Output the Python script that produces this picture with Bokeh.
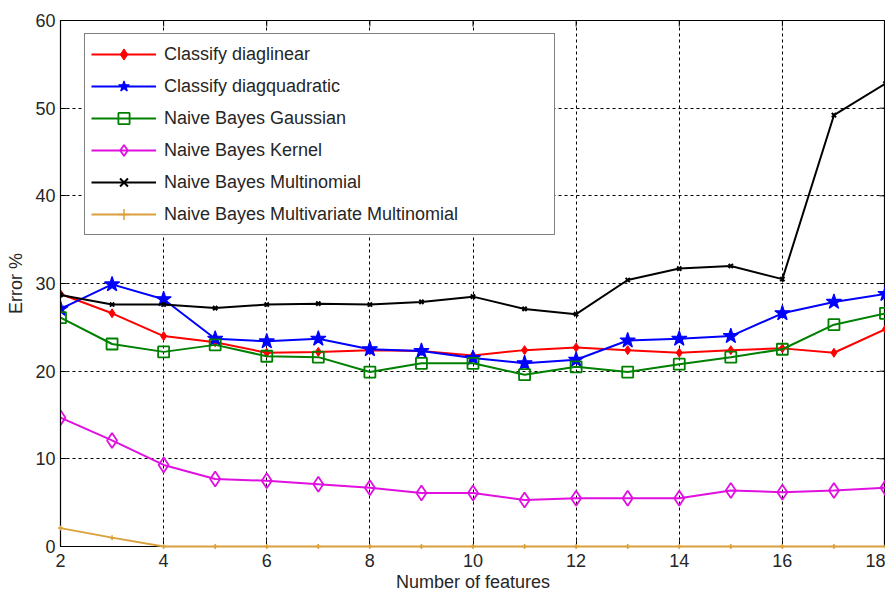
import math
from bokeh.plotting import figure
from bokeh.models import FixedTicker, Range1d, Legend, LegendItem
from bokeh.embed import file_html
from bokeh.resources import INLINE

features = list(range(2, 19))
diaglinear = [28.8, 26.6, 24.0, 23.3, 22.1, 22.2, 22.4, 22.3, 21.8, 22.4, 22.7, 22.4, 22.1, 22.4, 22.6, 22.1, 24.8]
diagquadratic = [27.1, 29.9, 28.2, 23.7, 23.4, 23.7, 22.5, 22.3, 21.5, 20.9, 21.3, 23.5, 23.7, 24.0, 26.6, 27.9, 28.8]
nb_gaussian = [26.1, 23.1, 22.2, 23.0, 21.7, 21.6, 19.9, 20.9, 20.9, 19.6, 20.5, 19.9, 20.8, 21.6, 22.5, 25.3, 26.6]
nb_kernel = [14.7, 12.1, 9.3, 7.7, 7.5, 7.1, 6.7, 6.1, 6.1, 5.3, 5.5, 5.5, 5.5, 6.4, 6.2, 6.4, 6.7]
nb_multinomial = [28.7, 27.6, 27.6, 27.2, 27.6, 27.7, 27.6, 27.9, 28.5, 27.1, 26.5, 30.4, 31.7, 32.0, 30.5, 49.2, 52.8]
nb_mv_multinomial = [2.1, 1.0, 0, 0, 0, 0, 0, 0, 0, 0, 0, 0, 0, 0, 0, 0, 0]

labels = ["Classify diaglinear", "Classify diagquadratic", "Naive Bayes Gaussian",
          "Naive Bayes Kernel", "Naive Bayes Multinomial", "Naive Bayes Multivariate Multinomial"]
x_ticks = [2, 4, 6, 8, 10, 12, 14, 16, 18]
y_ticks = [0, 10, 20, 30, 40, 50, 60]
x_min, x_max = 2, 18
y_min, y_max = 0, 60

FONT = "Liberation Sans"
TXT = "#262626"

p = figure(width=885, height=594, output_backend="svg", toolbar_location=None,
           x_range=Range1d(x_min, x_max), y_range=Range1d(y_min, y_max),
           min_border_left=60, min_border_right=0, min_border_top=20, min_border_bottom=48,
           background_fill_color="white", border_fill_color="white")
p.outline_line_color = "black"
p.outline_line_width = 1.2

for ax in (p.xaxis[0], p.yaxis[0]):
    ax.major_tick_in = 6
    ax.major_tick_out = 0
    ax.minor_tick_line_color = None
    ax.major_label_text_font = FONT
    ax.major_label_text_font_size = "18px"
    ax.major_label_text_color = TXT
    ax.axis_label_text_font = FONT
    ax.axis_label_text_font_size = "18px"
    ax.axis_label_text_font_style = "normal"
    ax.axis_label_text_color = TXT
    ax.axis_line_color = "black"
    ax.major_tick_line_color = "black"

p.xaxis[0].ticker = FixedTicker(ticks=x_ticks)
p.yaxis[0].ticker = FixedTicker(ticks=y_ticks)
p.xaxis[0].axis_label = "Number of features"
p.yaxis[0].axis_label = "Error %"
p.xaxis[0].major_label_standoff = 7
p.xaxis[0].axis_label_standoff = 2
p.yaxis[0].major_label_standoff = 5
p.yaxis[0].axis_label_standoff = 6

p.xgrid.ticker = FixedTicker(ticks=x_ticks)
p.ygrid.ticker = FixedTicker(ticks=y_ticks)
for g in (p.xgrid[0], p.ygrid[0]):
    g.grid_line_color = "black"
    g.grid_line_dash = "3 3"
    g.grid_line_width = 1
    g.grid_line_alpha = 1

# inward ticks on the top and right edges of the box
p.ray(x=x_ticks, y=[y_max] * len(x_ticks), length=6, length_units="screen",
      angle=-math.pi / 2, line_color="black", line_width=1)
p.ray(x=[x_max] * len(y_ticks), y=y_ticks, length=6, length_units="screen",
      angle=math.pi, line_color="black", line_width=1)

items = []

l = p.line(features, diaglinear, line_color="#ff0000", line_width=2)
m = p.scatter(features, diaglinear, marker="diamond", size=9, fill_color="#ff0000", line_color="#ff0000")
items.append(LegendItem(label=labels[0], renderers=[l, m]))

l = p.line(features, diagquadratic, line_color="#0000ff", line_width=2)
m = p.scatter(features, diagquadratic, marker="star", size=16, fill_color="#0000ff", line_color="#0000ff", line_width=1.2)
items.append(LegendItem(label=labels[1], renderers=[l, m]))

l = p.line(features, nb_gaussian, line_color="#008000", line_width=2)
m = p.scatter(features, nb_gaussian, marker="square", size=11, fill_color=None, line_color="#008000", line_width=1.8)
items.append(LegendItem(label=labels[2], renderers=[l, m]))

l = p.line(features, nb_kernel, line_color="#e010e0", line_width=2)
m = p.scatter(features, nb_kernel, marker="diamond", size=15, fill_color=None, line_color="#e010e0", line_width=1.8)
items.append(LegendItem(label=labels[3], renderers=[l, m]))

l = p.line(features, nb_multinomial, line_color="black", line_width=2)
m = p.scatter(features, nb_multinomial, marker="x", size=6, line_color="black", line_width=2)
items.append(LegendItem(label=labels[4], renderers=[l, m]))

l = p.line(features, nb_mv_multinomial, line_color="#d9a03c", line_width=1.8, level="overlay")
m = p.scatter(features, nb_mv_multinomial, marker="cross", size=5, line_color="#d9a03c", line_width=1.5, level="overlay")
items.append(LegendItem(label=labels[5], renderers=[l, m]))

legend = Legend(items=items, location=(24, 311))
legend.label_text_font = FONT
legend.label_text_font_size = "18px"
legend.label_text_color = TXT
legend.glyph_width = 65
legend.glyph_height = 28
legend.label_height = 28
legend.spacing = 4
legend.padding = 6
legend.margin = 0
legend.label_standoff = 8
legend.label_width = 384
legend.border_line_color = "black"
legend.border_line_width = 1.2
legend.background_fill_color = "white"
legend.background_fill_alpha = 1
p.add_layout(legend, "center")

open("out.html", "w").write(file_html(p, INLINE))
